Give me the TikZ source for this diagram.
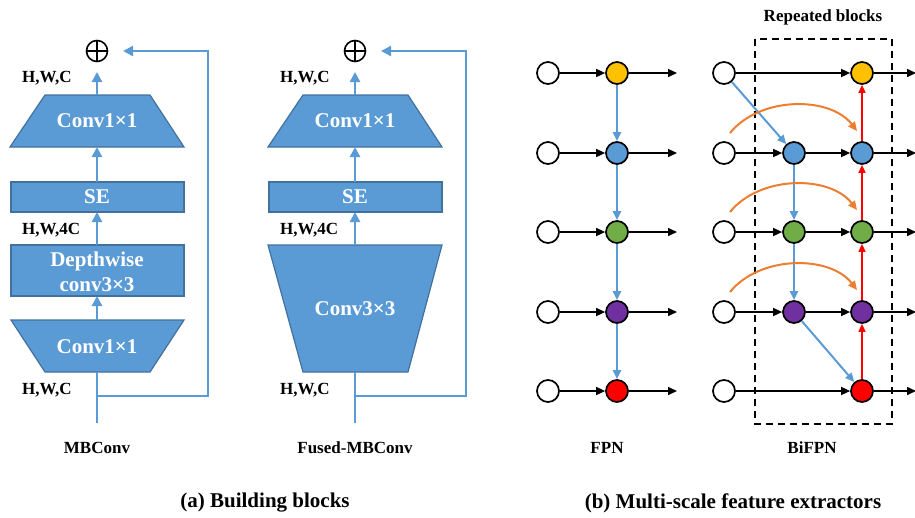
\documentclass[tikz,border=0pt]{standalone}
\usepackage{fontspec}
\setmainfont{Liberation Serif}
\usetikzlibrary{arrows.meta,calc}
\definecolor{bfill}{HTML}{5B9BD5}
\definecolor{bdraw}{HTML}{41719C}
\definecolor{lblue}{HTML}{5B9BD5}
\definecolor{corange}{HTML}{ED7D31}
\definecolor{cyel}{HTML}{FFC000}
\definecolor{cgrn}{HTML}{70AD47}
\definecolor{cpur}{HTML}{7030A0}
\definecolor{cred}{HTML}{FF0000}
\tikzset{
 blk/.style={fill=bfill,draw=bdraw,line width=1.2pt},
 blktext/.style={text=white,font=\fontsize{21}{25}\selectfont\bfseries,align=center,inner sep=0},
 dimlbl/.style={font=\fontsize{17}{18}\selectfont\bfseries,anchor=west,inner sep=0},
 lbl/.style={font=\fontsize{17}{18}\selectfont\bfseries,inner sep=0},
 caplbl/.style={font=\fontsize{21}{22}\selectfont\bfseries,inner sep=0},
 flowarr/.style={draw=lblue,line width=2.6pt,-{Triangle[length=10pt,width=10pt]}},
 skipline/.style={draw=lblue,line width=2.4pt},
 oplus/.style={circle,draw,line width=1.6pt,minimum size=21pt,inner sep=0,
   path picture={\draw[line width=1.6pt] (path picture bounding box.north) -- (path picture bounding box.south) (path picture bounding box.west) -- (path picture bounding box.east);}},
 fnode/.style={circle,draw=black,line width=1.7pt,minimum size=22pt,inner sep=0},
 harr/.style={draw=black,line width=1.5pt,-{Triangle[length=9pt,width=8pt]}},
 varr/.style={draw=lblue,line width=2pt,-{Triangle[length=9pt,width=8pt]}},
 rarr/.style={draw=cred,line width=1.5pt,-{Triangle[length=8pt,width=7pt]}},
 oarr/.style={draw=corange,line width=2pt,-{Triangle[length=9pt,width=8pt]}},
 dbox/.style={draw=black,line width=2pt,dash pattern=on 7pt off 5pt},
}
\begin{document}
\begin{tikzpicture}[x=1pt,y=-1pt]
\useasboundingbox (0,0) rectangle (915,517);

% ===== MBConv =====
\node[oplus] (addA) at (97,51) {};
\coordinate (addAin) at (97,72);
\filldraw[blk] (45,95) -- (150,95) -- (184,147) -- (10,147) -- cycle;
\node[blktext] (c1A) at (97,121) {Conv1×1};
\coordinate (c1AT) at (97,95); \coordinate (c1AB) at (97,147);
\filldraw[blk] (11,182) rectangle (184,212);
\node[blktext] (seA) at (97,197) {SE};
\coordinate (seAT) at (97,182); \coordinate (seAB) at (97,212);
\filldraw[blk] (11,245) rectangle (184,296);
\node[blktext] (dwA) at (97,272) {Depthwise\\conv3×3};
\coordinate (dwAT) at (97,245); \coordinate (dwAB) at (97,296);
\filldraw[blk] (11,320) -- (184,320) -- (150,372) -- (45,372) -- cycle;
\node[blktext] (c2A) at (97,347) {Conv1×1};
\coordinate (c2AT) at (97,320); \coordinate (c2AB) at (97,372);
\coordinate (inA) at (97,423); \coordinate (jA) at (97,396);
\coordinate (rA1) at (208,396); \coordinate (rA2) at (208,51); \coordinate (rA3) at (123,51);
\draw[flowarr] (c1AT) -- (addAin);
\draw[flowarr] (seAT) -- (c1AB);
\draw[flowarr] (dwAT) -- (seAB);
\draw[flowarr] (c2AT) -- (dwAB);
\draw[skipline] (inA) -- (c2AB);
\draw[skipline,-{Triangle[length=10pt,width=10pt]}] (jA) -- (rA1) -- (rA2) -- (rA3);
\node[dimlbl] (hA1) at (22,78) {H,W,C};
\node[dimlbl] (hA2) at (22,230) {H,W,4C};
\node[dimlbl] (hA3) at (22,390) {H,W,C};
\node[lbl] (tA) at (97,448) {MBConv};

% ===== Fused-MBConv =====
\node[oplus] (addB) at (355,51) {};
\coordinate (addBin) at (355,72);
\filldraw[blk] (303,95) -- (408,95) -- (442,147) -- (268,147) -- cycle;
\node[blktext] (c1B) at (355,121) {Conv1×1};
\coordinate (c1BT) at (355,95); \coordinate (c1BB) at (355,147);
\filldraw[blk] (269,182) rectangle (442,212);
\node[blktext] (seB) at (355,197) {SE};
\coordinate (seBT) at (355,182); \coordinate (seBB) at (355,212);
\filldraw[blk] (268,245) -- (442,245) -- (408,372) -- (303,372) -- cycle;
\node[blktext] (c3B) at (355,309) {Conv3×3};
\coordinate (c3BT) at (355,245); \coordinate (c3BB) at (355,372);
\coordinate (inB) at (355,423); \coordinate (jB) at (355,396);
\coordinate (rB1) at (466,396); \coordinate (rB2) at (466,51); \coordinate (rB3) at (381,51);
\draw[flowarr] (c1BT) -- (addBin);
\draw[flowarr] (seBT) -- (c1BB);
\draw[flowarr] (c3BT) -- (seBB);
\draw[skipline] (inB) -- (c3BB);
\draw[skipline,-{Triangle[length=10pt,width=10pt]}] (jB) -- (rB1) -- (rB2) -- (rB3);
\node[dimlbl] (hB1) at (280,78) {H,W,C};
\node[dimlbl] (hB2) at (280,230) {H,W,4C};
\node[dimlbl] (hB3) at (280,390) {H,W,C};
\node[lbl] (tB) at (355,448) {Fused-MBConv};

\node[caplbl] (capA) at (265,503) {(a) Building blocks};

% ===== FPN =====
\foreach \i/\y/\c in {1/73/cyel,2/153/bfill,3/232/cgrn,4/312/cpur,5/391/cred}{
  \node[fnode,fill=white] (fi\i) at (548,\y) {};
  \node[fnode,fill=\c] (f\i) at (617,\y) {};
  \coordinate (fo\i) at (677,\y);
  \draw[harr] (fi\i) -- (f\i);
  \draw[harr] (f\i) -- (fo\i);
}
\draw[varr] (f1) -- (f2);
\draw[varr] (f2) -- (f3);
\draw[varr] (f3) -- (f4);
\draw[varr] (f4) -- (f5);
\node[lbl] (tF) at (607,448) {FPN};

% ===== BiFPN =====
\draw[dbox] (755,39) rectangle (892,424);
\node[lbl] (rep) at (823,17) {Repeated blocks};
\foreach \i/\y/\c in {1/73/cyel,2/153/bfill,3/232/cgrn,4/312/cpur,5/391/cred}{
  \node[fnode,fill=white] (bi\i) at (724,\y) {};
  \node[fnode,fill=\c] (r\i) at (862,\y) {};
  \coordinate (bo\i) at (916,\y);
  \draw[harr] (r\i) -- (bo\i);
}
\foreach \i/\y/\c in {2/153/bfill,3/232/cgrn,4/312/cpur}{
  \node[fnode,fill=\c] (m\i) at (794,\y) {};
  \draw[harr] (bi\i) -- (m\i);
  \draw[harr] (m\i) -- (r\i);
}
\draw[harr] (bi1) -- (r1);
\draw[harr] (bi5) -- (r5);
\draw[varr] (bi1) -- (m2);
\draw[varr] (m2) -- (m3);
\draw[varr] (m3) -- (m4);
\draw[varr] (m4) -- (r5);
\draw[rarr] (r5) -- (r4);
\draw[rarr] (r4) -- (r3);
\draw[rarr] (r3) -- (r2);
\draw[rarr] (r2) -- (r1);
\foreach \i/\y in {2/153,3/232,4/312}{
  \coordinate (os\i) at (730,\y-20);
  \coordinate (oe\i) at (857,\y-22);
  \draw[oarr] (os\i) .. controls (760,\y-57) and (830,\y-57) .. (oe\i);
}
\node[lbl] (tBi) at (812,448) {BiFPN};

\node[caplbl] (capB) at (733,503) {(b) Multi-scale feature extractors};
\end{tikzpicture}
\end{document}
